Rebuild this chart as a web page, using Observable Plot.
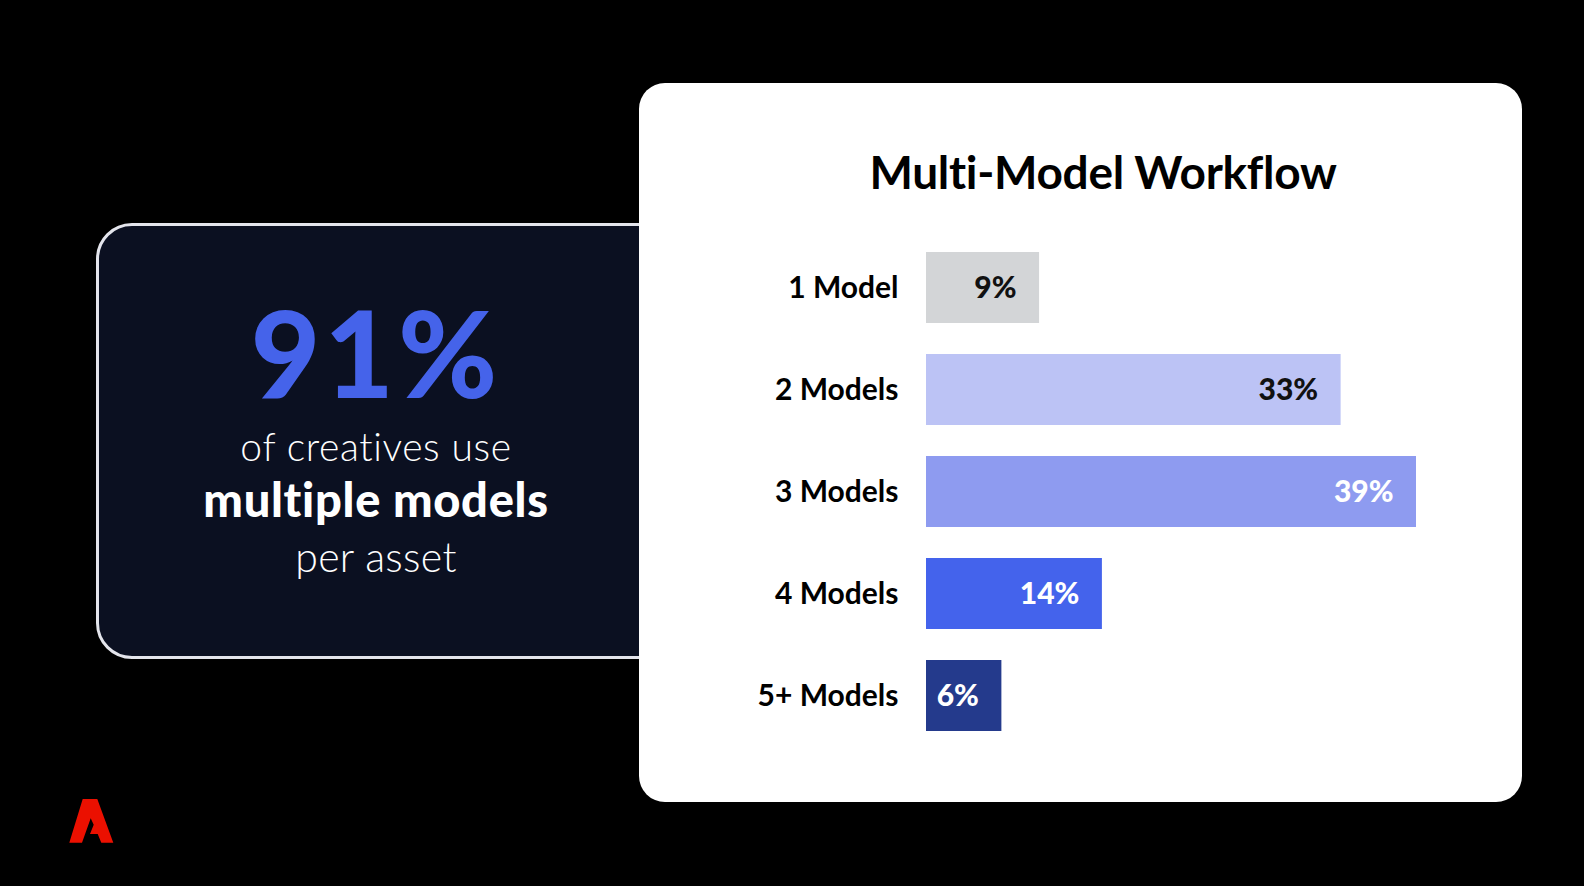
<!DOCTYPE html>
<html>
<head>
<meta charset="utf-8">
<script src="https://cdn.jsdelivr.net/npm/d3@7"></script>
<script src="https://cdn.jsdelivr.net/npm/@observablehq/plot@0.6"></script>
<style>
  html, body { margin:0; padding:0; background:#000; }
  body { width:1584px; height:886px; position:relative; overflow:hidden; font-family: Lato, "Open Sans", sans-serif; }
  .dark-card { position:absolute; left:96px; top:223px; width:620px; height:430px; background:#0b1021; border:3px solid #e4e5ec; border-radius:36px; }
  .white-card { position:absolute; left:639px; top:83px; width:883px; height:719px; background:#fff; border-radius:26px; }
  .line { position:absolute; left:0; width:752px; text-align:center; color:#fff; line-height:1; white-space:nowrap; }
  .title { position:absolute; left:1103px; top:149px; transform:translateX(-50%); font-size:46px; font-weight:700; color:#000; line-height:1; white-space:nowrap; letter-spacing:-0.3px; }
  #chart { position:absolute; left:639px; top:200px; }
  #chart svg text { font-family: Lato, sans-serif; }
</style>
</head>
<body>
<div class="dark-card"></div>
<div class="line" style="top:291.6px; font-size:120px; font-weight:900; color:#4563ea; letter-spacing:4px;">91%</div>
<div class="line" style="top:427.4px; font-size:39px; font-weight:300; letter-spacing:0.6px;">of creatives use</div>
<div class="line" style="top:476.3px; font-size:47px; font-weight:900; letter-spacing:0.7px;">multiple models</div>
<div class="line" style="top:535.6px; font-size:41px; font-weight:300; letter-spacing:0.3px;">per asset</div>
<div class="white-card"></div>
<div class="title">Multi-Model Workflow</div>
<div id="chart"></div>
<svg style="position:absolute; left:0; top:0;" width="1584" height="886">
  <polygon fill="#eb1000" points="82.7,799 97.3,799 113.3,842.7 101.3,842.7 97.7,834 90,834 93.7,824.7 90.7,818.3 82,842.7 69.3,842.7"/>
</svg>
<script>
const categories = ["1 Model", "2 Models", "3 Models", "4 Models", "5+ Models"];
const shares = [9, 33, 39, 14, 6];
const barColors = ["#d3d5d7", "#bcc3f5", "#8e9bf0", "#4463ec", "#243a8c"];
const labelColors = ["#111111", "#111111", "#ffffff", "#ffffff", "#ffffff"];

const data = categories.map((c, i) => ({
  category: c, share: shares[i], color: barColors[i], labelColor: labelColors[i]
}));

const chart = Plot.plot({
  width: 883,
  height: 583,
  marginLeft: 287,
  marginRight: 106,
  marginTop: 20,
  marginBottom: 20,
  style: { background: "transparent", overflow: "visible", color: "#000", fontFamily: "Lato, sans-serif" },
  x: { domain: [0, 39], axis: null },
  y: { domain: categories, padding: 0.306, label: null },
  color: { type: "identity" },
  marks: [
    Plot.barX(data, { x: "share", y: "category", fill: "color" }),
    Plot.text(data, {
      x: "share", y: "category", text: d => d.share + "%",
      textAnchor: "end", dx: -23, fill: "labelColor",
      fontSize: 30, fontWeight: 900
    }),
    Plot.axisY({ tickSize: 0, tickPadding: 28, fontSize: 30, fontWeight: "bold", label: null })
  ]
});
document.getElementById("chart").appendChild(chart);
</script>
</body>
</html>
